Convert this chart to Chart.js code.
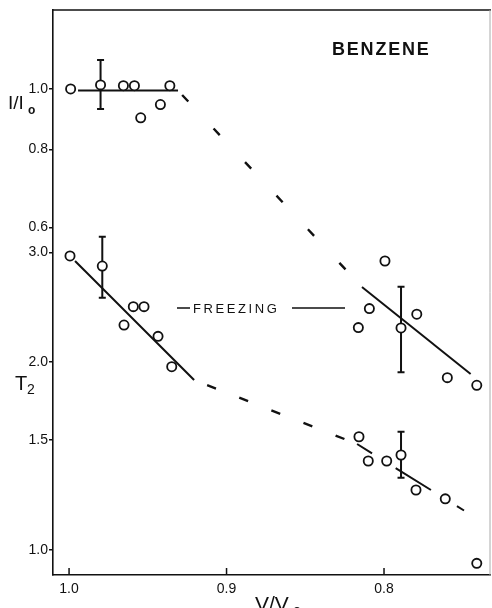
<!DOCTYPE html>
<html><head><meta charset="utf-8">
<script src="https://cdn.jsdelivr.net/npm/chart.js@4.4.1/dist/chart.umd.min.js"></script>
<style>html,body{margin:0;padding:0;background:#fff;overflow:hidden}canvas{display:block}</style>
</head><body><canvas id="c" width="492" height="608"></canvas>
<script>
// ---- tick labels ----
const xTicks = [1.0, 0.9, 0.8];
const tTicks = [1.0, 1.5, 2.0, 3.0];
const iTicks = [0.6, 0.8, 1.0];

// ---- I/I0 series (measured points) ----
const iX = [0.999, 0.980, 0.9655, 0.9585, 0.9545, 0.942, 0.936, 0.8163, 0.8093, 0.7994, 0.7892, 0.7792, 0.7598, 0.7411];
const iY = [1.000, 1.015, 1.012, 1.012, 0.899, 0.944, 1.012, 0.4145, 0.4446, 0.530, 0.414, 0.4355, 0.3446, 0.335];
const iErrX = [0.980, 0.7892];
const iErrLo = [0.929, 0.3516];
const iErrHi = [1.113, 0.482];
// I/I0 fitted lines
const iFlatX = [0.9943, 0.9308];
const iFlatY = [0.994, 0.994];
const iDashX = [0.9308, 0.814];
const iDashY = [0.994, 0.4816];
const iFitX = [0.814, 0.745];
const iFitY = [0.4816, 0.3494];

// ---- T2 series (measured points) ----
const tX = [0.9994, 0.9789, 0.9651, 0.9592, 0.9524, 0.9435, 0.9348, 0.8159, 0.810, 0.7983, 0.7892, 0.7797, 0.7611, 0.7411];
const tY = [2.96, 2.852, 2.294, 2.455, 2.455, 2.20, 1.967, 1.519, 1.389, 1.389, 1.420, 1.248, 1.208, 0.952];
const tErrX = [0.9789, 0.7892];
const tErrLo = [2.537, 1.306];
const tErrHi = [3.178, 1.547];
// T2 fitted lines
const tFitX = [0.9962, 0.9206];
const tFitY = [2.905, 1.873];
const tDashX = [0.9206, 0.8171];
const tDashY = [1.873, 1.479];
const tFit2X = [0.8171, 0.8076, null, 0.7926, 0.7702, null, 0.7537, 0.7492];
const tFit2Y = [1.479, 1.429, null, 1.353, 1.248, null, 1.176, 1.157];

// ---- axis ranges ----
const X_MIN = 0.7327, X_MAX = 1.0102;
const T_MIN = 0.912, T_MAX = 7.336;
const I_TO_T = 5.482;            // I/I0 axis is offset from T2 axis by this factor (log)
const I_MIN = T_MIN / I_TO_T, I_MAX = T_MAX / I_TO_T;

const pts = (xs, ys) => xs.map((x, k) => (x === null ? {x: null, y: null} : {x: x, y: ys[k]}));

const FONT = '"Liberation Sans", Arial, sans-serif';

const lineDs = (xs, ys, axis, extra) => Object.assign({
  data: pts(xs, ys), yAxisID: axis, showLine: true, pointRadius: 0,
  borderColor: '#111', borderWidth: 2, spanGaps: false, order: 2, tension: 0
}, extra || {});
const markDs = (xs, ys, axis) => ({
  data: pts(xs, ys), yAxisID: axis, showLine: false, pointRadius: 4.6,
  pointBorderWidth: 1.8, pointBorderColor: '#111', pointBackgroundColor: '#fff',
  pointStyle: 'circle', order: 0
});

const decor = {
  id: 'decor',
  beforeDatasetsDraw(chart) {
    const ctx = chart.ctx, xs = chart.scales.x;
    const bars = (ex, lo, hi, sc) => {
      ex.forEach((x, k) => {
        const px = xs.getPixelForValue(x);
        const p1 = sc.getPixelForValue(hi[k]), p2 = sc.getPixelForValue(lo[k]);
        ctx.save(); ctx.strokeStyle = '#111'; ctx.lineWidth = 2;
        ctx.beginPath();
        ctx.moveTo(px, p1); ctx.lineTo(px, p2);
        ctx.moveTo(px - 3.5, p1); ctx.lineTo(px + 3.5, p1);
        ctx.moveTo(px - 3.5, p2); ctx.lineTo(px + 3.5, p2);
        ctx.stroke(); ctx.restore();
      });
    };
    bars(iErrX, iErrLo, iErrHi, chart.scales.yI);
    bars(tErrX, tErrLo, tErrHi, chart.scales.y);
  },
  afterDraw(chart) {
    const ctx = chart.ctx, a = chart.chartArea, xs = chart.scales.x;
    ctx.save();
    // top & right frame
    ctx.strokeStyle = '#111'; ctx.lineWidth = 1.5;
    ctx.beginPath(); ctx.moveTo(a.left, a.top); ctx.lineTo(a.right + 1, a.top); ctx.stroke();
    ctx.strokeStyle = '#aaa'; ctx.lineWidth = 1;
    ctx.beginPath(); ctx.moveTo(a.right, a.top); ctx.lineTo(a.right, a.bottom); ctx.stroke();
    // inward x ticks
    ctx.strokeStyle = '#111'; ctx.lineWidth = 1.5;
    xs.ticks.forEach(t => {
      const px = xs.getPixelForValue(t.value);
      ctx.beginPath(); ctx.moveTo(px, a.bottom); ctx.lineTo(px, a.bottom - 7); ctx.stroke();
    });
    ctx.fillStyle = '#111'; ctx.textBaseline = 'alphabetic'; ctx.textAlign = 'left';
    // BENZENE
    ctx.font = 'bold 18px ' + FONT;
    try { ctx.letterSpacing = '1.8px'; } catch (e) {}
    ctx.fillText('BENZENE', 332, 55);
    // FREEZING
    ctx.font = '13px ' + FONT;
    try { ctx.letterSpacing = '2.6px'; } catch (e) {}
    ctx.fillText('FREEZING', 193, 313);
    try { ctx.letterSpacing = '0px'; } catch (e) {}
    ctx.lineWidth = 1.6;
    ctx.beginPath();
    ctx.moveTo(177, 308); ctx.lineTo(190, 308);
    ctx.moveTo(292, 308); ctx.lineTo(345, 308);
    ctx.stroke();
    // axis titles
    ctx.font = '19px ' + FONT;
    ctx.fillText('I/I', 8, 109);
    ctx.font = 'bold 12px ' + FONT;
    ctx.fillText('o', 28, 114);
    ctx.font = '20px ' + FONT;
    ctx.fillText('T', 15, 390);
    ctx.font = '14px ' + FONT;
    ctx.fillText('2', 27, 394);
    ctx.font = '21px ' + FONT;
    ctx.fillText('V/V', 255, 611);
    ctx.font = 'bold 13px ' + FONT;
    ctx.fillText('o', 293, 614);
    ctx.restore();
  }
};

new Chart(document.getElementById('c'), {
  type: 'scatter',
  data: {
    datasets: [
      lineDs(iFlatX, iFlatY, 'yI'),
      lineDs(iDashX, iDashY, 'yI', {borderDash: [9, 37], borderDashOffset: 40, borderWidth: 2.4}),
      lineDs(iFitX, iFitY, 'yI'),
      lineDs(tFitX, tFitY, 'y'),
      lineDs(tDashX, tDashY, 'y', {borderDash: [9.5, 25], borderDashOffset: 20.5, borderWidth: 2.4}),
      lineDs(tFit2X, tFit2Y, 'y'),
      markDs(iX, iY, 'yI'),
      markDs(tX, tY, 'y')
    ]
  },
  options: {
    responsive: false, maintainAspectRatio: false, animation: false,
    devicePixelRatio: 1,
    layout: {autoPadding: false, padding: {left: 0, top: 10, right: 2, bottom: 0}},
    plugins: {legend: {display: false}, tooltip: {enabled: false}, title: {display: false}},
    scales: {
      x: {
        type: 'linear', reverse: true, min: X_MIN, max: X_MAX, bounds: 'data',
        afterBuildTicks: s => { s.ticks = xTicks.map(v => ({value: v})); },
        afterFit: s => { s.height = 33; s.paddingLeft = 0; s.paddingRight = 0; },
        grid: {display: true, drawOnChartArea: false, drawTicks: true, tickLength: 6, tickColor: 'rgba(0,0,0,0)'},
        border: {display: true, color: '#111', width: 1.6},
        ticks: {color: '#111', padding: 0, maxRotation: 0, font: {family: FONT, size: 14},
          callback: v => Number(v).toFixed(1)}
      },
      y: {
        type: 'logarithmic', position: 'left', min: T_MIN, max: T_MAX, bounds: 'data',
        afterBuildTicks: s => {
          s.ticks = tTicks.map(v => ({value: v, lbl: v.toFixed(1)}))
            .concat(iTicks.map(v => ({value: v * I_TO_T, lbl: v.toFixed(1)})));
        },
        afterFit: s => { s.width = 53; s.paddingTop = 0; s.paddingBottom = 0; },
        grid: {display: true, drawOnChartArea: false, drawTicks: true, tickLength: 4, color: '#111', lineWidth: 1.5},
        border: {display: true, color: '#111', width: 1.6},
        ticks: {color: '#111', padding: 1, font: {family: FONT, size: 14},
          callback: (v, i, t) => t[i].lbl}
      },
      yI: {
        type: 'logarithmic', position: 'left', min: I_MIN, max: I_MAX, bounds: 'data', display: false
      }
    }
  },
  plugins: [decor]
});
</script>
</body></html>
